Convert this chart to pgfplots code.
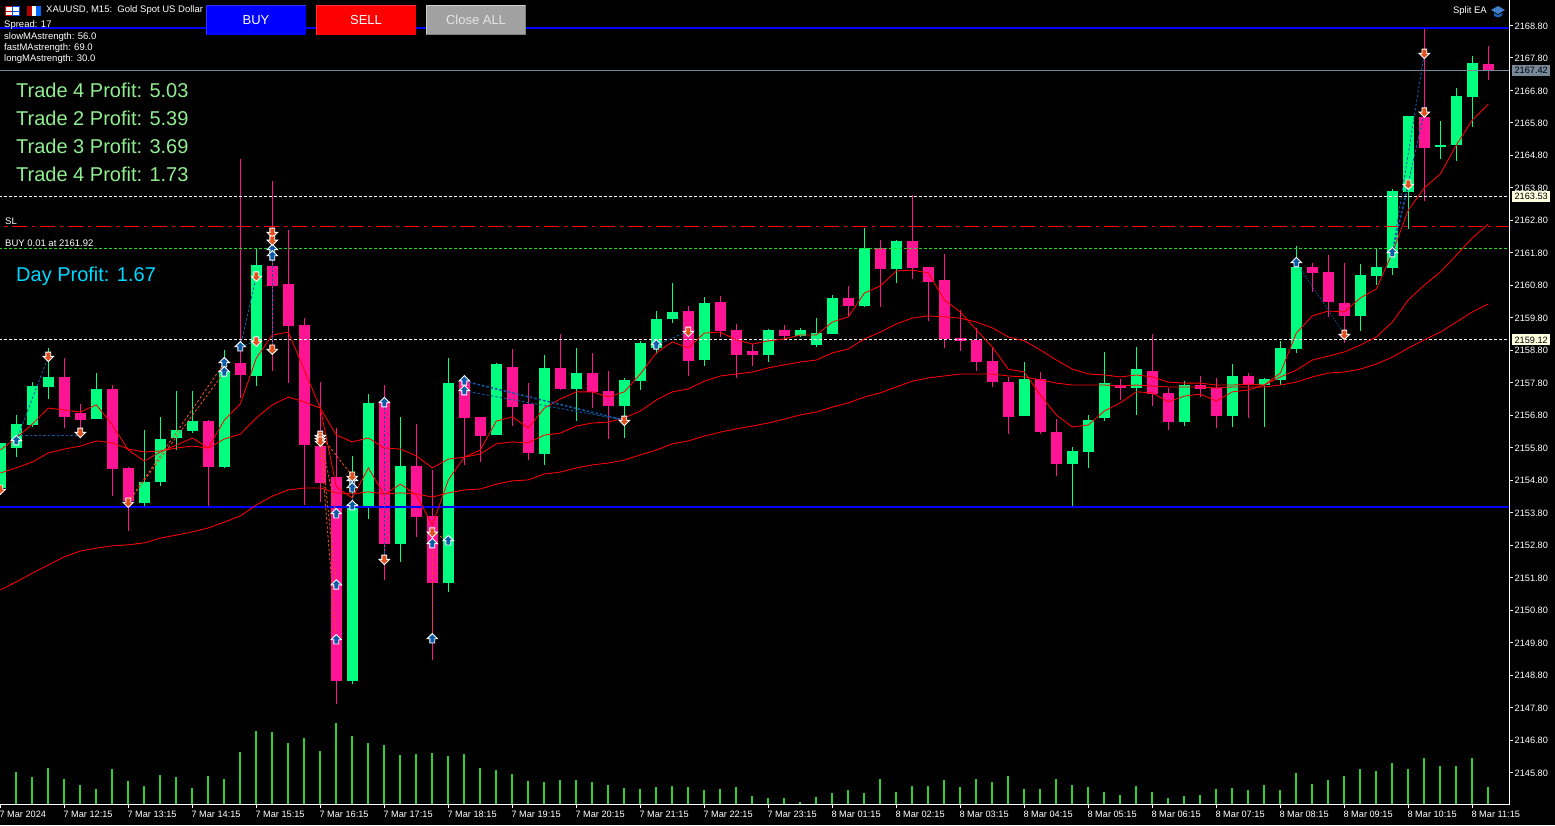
\documentclass[border=0pt]{standalone}
\usepackage{fontspec}
\setmainfont{Liberation Sans}
\usepackage{pgfplots}
\usepackage{pgfplotstable}
\pgfplotsset{compat=1.18}

\definecolor{bull}{HTML}{00FF7F}
\definecolor{bear}{HTML}{FF1493}
\definecolor{vol}{HTML}{32CD32}
\definecolor{tradeblue}{HTML}{0A5CA8}
\definecolor{tradeorange}{HTML}{E0501E}
\definecolor{slate}{HTML}{778899}
\definecolor{tag}{HTML}{FFFFE0}
\definecolor{profit}{HTML}{90EE90}
\definecolor{dayprofit}{HTML}{00D8FF}
\definecolor{entry}{HTML}{22DD22}

\newcommand{\tickfont}{\fontsize{9.2}{10}\selectfont}
\newcommand{\infofont}{\fontsize{9.5}{10}\selectfont}
\newcommand{\bigfont}{\fontsize{20}{22}\selectfont}
\newcommand{\btnfont}{\fontsize{13}{14}\selectfont}

\pgfdeclareplotmark{tup}{%
  \pgfpathmoveto{\pgfqpoint{0pt}{5.5pt}}%
  \pgfpathlineto{\pgfqpoint{5.2pt}{0.3pt}}%
  \pgfpathlineto{\pgfqpoint{2.4pt}{0.3pt}}%
  \pgfpathlineto{\pgfqpoint{2.4pt}{-4pt}}%
  \pgfpathlineto{\pgfqpoint{-2.4pt}{-4pt}}%
  \pgfpathlineto{\pgfqpoint{-2.4pt}{0.3pt}}%
  \pgfpathlineto{\pgfqpoint{-5.2pt}{0.3pt}}%
  \pgfpathclose\pgfusepathqfillstroke}
\pgfdeclareplotmark{tdown}{%
  \pgfpathmoveto{\pgfqpoint{0pt}{-5.5pt}}%
  \pgfpathlineto{\pgfqpoint{5.2pt}{-0.3pt}}%
  \pgfpathlineto{\pgfqpoint{2.4pt}{-0.3pt}}%
  \pgfpathlineto{\pgfqpoint{2.4pt}{4pt}}%
  \pgfpathlineto{\pgfqpoint{-2.4pt}{4pt}}%
  \pgfpathlineto{\pgfqpoint{-2.4pt}{-0.3pt}}%
  \pgfpathlineto{\pgfqpoint{-5.2pt}{-0.3pt}}%
  \pgfpathclose\pgfusepathqfillstroke}

\pgfplotstableread{
i hi top bot lo
0 2155.95 2155.95 2154.56 2154.50
1 2156.81 2156.53 2155.79 2155.51
2 2157.82 2157.70 2156.50 2156.44
3 2158.87 2157.98 2157.67 2157.30
6 2158.10 2157.61 2156.68 2156.68
9 2156.35 2154.74 2154.10 2154.01
10 2156.75 2156.07 2154.74 2154.62
11 2157.55 2156.35 2156.10 2155.73
12 2157.55 2156.62 2156.32 2156.25
14 2158.81 2158.13 2155.21 2155.18
16 2161.95 2161.43 2158.01 2157.70
22 2155.55 2154.07 2148.62 2148.53
23 2157.45 2157.18 2154.01 2153.61
25 2156.75 2155.24 2152.84 2152.28
28 2158.56 2157.79 2151.64 2151.36
31 2158.41 2158.38 2156.19 2156.19
34 2158.66 2158.26 2155.61 2155.27
36 2158.87 2158.10 2157.61 2156.62
39 2157.95 2157.89 2157.08 2156.10
40 2159.09 2159.03 2157.85 2157.58
41 2160.01 2159.76 2158.87 2158.69
42 2160.87 2159.98 2159.76 2159.64
44 2160.44 2160.26 2158.50 2158.32
48 2159.46 2159.43 2158.66 2158.44
50 2159.49 2159.43 2159.24 2159.21
51 2159.79 2159.33 2158.96 2158.90
52 2160.50 2160.41 2159.30 2159.30
54 2162.57 2161.95 2160.16 2160.13
56 2162.20 2162.17 2161.30 2160.87
64 2158.44 2157.92 2156.78 2156.78
67 2155.82 2155.70 2155.30 2153.94
68 2156.81 2156.65 2155.67 2155.18
69 2158.75 2157.79 2156.72 2156.62
71 2158.90 2158.22 2157.64 2156.81
74 2157.85 2157.73 2156.59 2156.47
77 2158.38 2158.01 2156.78 2156.44
79 2157.95 2157.92 2157.73 2156.44
80 2159.09 2158.87 2157.89 2157.73
81 2162.01 2161.36 2158.84 2158.72
85 2161.46 2161.12 2159.86 2159.39
86 2161.95 2161.36 2161.09 2160.81
87 2163.77 2163.70 2161.33 2161.12
88 2166.01 2166.01 2163.67 2162.53
90 2165.86 2165.12 2165.06 2164.69
91 2166.88 2166.63 2165.12 2164.63
92 2167.86 2167.65 2166.60 2165.67
}\bulls

\pgfplotstableread{
i hi top bot lo
4 2158.56 2157.98 2156.75 2156.41
5 2157.15 2156.87 2156.65 2156.19
7 2157.73 2157.61 2155.15 2154.31
8 2155.21 2155.18 2154.16 2153.24
13 2156.65 2156.62 2155.21 2153.98
15 2164.69 2158.41 2158.04 2157.33
17 2164.01 2161.40 2160.78 2158.16
18 2162.50 2160.84 2159.55 2157.79
19 2159.79 2159.58 2155.88 2154.04
20 2157.82 2155.85 2154.71 2154.13
21 2156.41 2154.90 2148.62 2147.91
24 2157.73 2157.24 2152.84 2151.73
26 2156.53 2155.24 2153.67 2153.05
27 2155.11 2153.70 2151.64 2149.27
29 2158.04 2157.89 2156.72 2155.27
30 2156.75 2156.75 2156.16 2155.36
32 2158.84 2158.29 2157.05 2156.47
33 2157.79 2157.15 2155.64 2155.42
35 2159.30 2158.26 2157.61 2157.58
37 2158.72 2158.10 2157.52 2157.02
38 2158.16 2157.55 2157.08 2156.07
43 2160.16 2160.01 2158.47 2158.01
45 2160.47 2160.29 2159.39 2159.21
46 2159.61 2159.43 2158.66 2157.95
47 2158.99 2158.78 2158.66 2158.32
49 2159.58 2159.43 2159.24 2159.15
53 2160.78 2160.41 2160.16 2159.83
55 2162.20 2161.95 2161.30 2160.13
57 2163.58 2162.17 2161.33 2161.00
58 2161.36 2161.36 2160.90 2159.70
59 2161.76 2160.96 2159.15 2158.87
60 2160.04 2159.18 2159.09 2158.78
61 2159.49 2159.12 2158.44 2158.16
62 2158.90 2158.47 2157.82 2157.67
63 2157.98 2157.82 2156.75 2156.22
65 2158.13 2157.92 2156.28 2156.22
66 2156.68 2156.28 2155.30 2154.93
70 2157.92 2157.73 2157.64 2157.27
72 2159.30 2158.16 2157.45 2157.08
73 2157.64 2157.49 2156.59 2156.35
75 2158.01 2157.73 2157.61 2157.36
76 2157.95 2157.64 2156.78 2156.41
78 2158.10 2158.01 2157.73 2156.72
82 2161.49 2161.36 2161.18 2160.60
83 2161.73 2161.21 2160.29 2159.83
84 2161.49 2160.26 2159.86 2159.03
89 2168.69 2165.98 2165.03 2163.40
93 2168.17 2167.61 2167.40 2167.12
}\bears

% moving averages: bar, fast, medium, slow
\pgfplotstableread{
i fast med slow
0 2155.73 2155.02 2151.42
1 2156.10 2155.18 2151.67
2 2156.53 2155.36 2151.94
3 2157.02 2155.64 2152.19
4 2156.96 2155.76 2152.44
5 2156.90 2155.85 2152.62
6 2157.12 2156.01 2152.71
7 2156.50 2155.95 2152.78
8 2155.73 2155.76 2152.81
9 2155.39 2155.67 2152.87
10 2155.67 2155.70 2153.02
11 2155.88 2155.79 2153.11
12 2156.10 2155.85 2153.21
13 2155.79 2155.79 2153.33
14 2156.65 2156.07 2153.51
15 2157.15 2156.22 2153.70
16 2158.56 2156.72 2154.04
17 2159.27 2157.12 2154.31
18 2159.36 2157.36 2154.50
19 2158.19 2157.21 2154.56
20 2157.02 2157.02 2154.56
21 2154.59 2156.19 2154.41
22 2154.25 2155.98 2154.38
23 2155.18 2156.10 2154.44
24 2154.35 2155.79 2154.38
25 2154.68 2155.76 2154.41
26 2154.35 2155.55 2154.38
27 2153.42 2155.18 2154.28
28 2154.81 2155.45 2154.41
29 2155.51 2155.51 2154.50
30 2155.73 2155.61 2154.53
31 2156.62 2155.92 2154.68
32 2156.75 2155.98 2154.78
33 2156.41 2155.95 2154.81
34 2157.02 2156.19 2154.99
35 2157.30 2156.25 2155.05
36 2157.52 2156.47 2155.18
37 2157.52 2156.56 2155.27
38 2157.36 2156.59 2155.33
39 2157.52 2156.72 2155.42
40 2158.07 2156.93 2155.58
41 2158.72 2157.27 2155.73
42 2159.06 2157.52 2155.92
43 2158.87 2157.61 2156.01
44 2159.33 2157.85 2156.16
45 2159.36 2158.01 2156.28
46 2159.12 2158.07 2156.38
47 2158.99 2158.13 2156.47
48 2159.09 2158.26 2156.56
49 2159.15 2158.35 2156.68
50 2159.27 2158.44 2156.81
51 2159.27 2158.50 2156.90
52 2159.67 2158.72 2157.05
53 2159.83 2158.84 2157.18
54 2160.56 2159.15 2157.36
55 2160.78 2159.36 2157.49
56 2161.24 2159.61 2157.67
57 2161.27 2159.79 2157.85
58 2161.18 2159.86 2157.95
59 2160.35 2159.83 2158.01
60 2159.98 2159.79 2158.07
61 2159.43 2159.67 2158.07
62 2158.90 2159.49 2158.07
63 2158.22 2159.21 2158.01
64 2158.13 2159.09 2157.98
65 2157.42 2158.81 2157.89
66 2156.81 2158.50 2157.79
67 2156.44 2158.22 2157.73
68 2156.50 2158.07 2157.73
69 2156.93 2158.04 2157.73
70 2157.18 2157.98 2157.70
71 2157.52 2158.04 2157.73
72 2157.49 2157.98 2157.70
73 2157.21 2157.82 2157.67
74 2157.39 2157.79 2157.67
75 2157.45 2157.79 2157.67
76 2157.24 2157.73 2157.64
77 2157.52 2157.73 2157.67
78 2157.58 2157.76 2157.67
79 2157.73 2157.73 2157.67
80 2158.10 2157.98 2157.73
81 2159.33 2158.19 2157.82
82 2159.86 2158.50 2157.98
83 2160.01 2158.62 2158.10
84 2159.98 2158.75 2158.13
85 2160.41 2158.96 2158.22
86 2160.69 2159.21 2158.38
87 2161.80 2159.67 2158.59
88 2163.12 2160.35 2158.87
89 2163.80 2160.81 2159.12
90 2164.23 2161.21 2159.36
91 2165.12 2161.73 2159.67
92 2165.89 2162.26 2159.98
93 2166.38 2162.69 2160.23
}\mas

\pgfplotsset{
  level/.style={no markers,forget plot},
  tradeline/.style={no markers,forget plot,line width=.9pt,dash pattern=on 2.5pt off 2pt},
}

\begin{document}
\begin{tikzpicture}[x=1pt,y=1pt]
\fill[black] (0pt,0pt) rectangle (1555pt,825pt);
\useasboundingbox (0pt,0pt) rectangle (1555pt,825pt);
\clip (0pt,0pt) rectangle (1555pt,825pt);

% tick volume, drawn first so the candles sit over it
\begin{axis}[at={(0pt,20.5pt)},anchor=south west,scale only axis,width=1509pt,height=804.5pt,
    xmin=-0.02,xmax=94.29,ymin=0,ymax=2413.5,axis lines=none]
\addplot[ycomb,draw=vol,line width=1.9pt,mark=none] coordinates {
(1,97)(2,82)(3,109)(4,76)(5,58)(6,46)(7,106)(8,70)(9,55)(10,88)(11,82)(12,49)(13,85)(14,76)
(15,157)(16,220)(17,217)(18,184)(19,199)(20,160)(21,244)(22,205)(23,184)(24,178)(25,148)
(26,151)(27,154)(28,145)(29,151)(30,109)(31,103)(32,91)(33,70)(34,67)(35,73)(36,73)(37,67)
(38,58)(39,49)(40,46)(41,52)(42,55)(43,52)(44,43)(45,46)(46,52)(47,25)(48,19)(49,19)(50,7)
(51,22)(52,34)(53,43)(54,34)(55,76)(56,37)(57,55)(58,55)(59,73)(60,52)(61,76)(62,67)(63,85)
(64,46)(65,46)(66,76)(67,58)(68,52)(69,37)(70,28)(71,55)(72,37)(73,19)(74,25)(75,28)(76,46)
(77,49)(78,43)(79,58)(80,43)(81,94)(82,61)(83,73)(84,85)(85,106)(86,100)(87,124)(88,106)
(89,139)(90,115)(91,115)(92,139)(93,52)};
\end{axis}

\begin{axis}[at={(0pt,20.5pt)},anchor=south west,scale only axis,width=1509pt,height=804.5pt,
    xmin=-0.02,xmax=94.29,ymin=2144.816,ymax=2169.585,
    clip mode=individual,
    axis x line=bottom,axis y line=right,
    axis line style={-,white,line width=1pt},
    tick style={white,line width=1pt},tick align=outside,major tick length=4pt,
    xtick={0,4,8,12,16,20,24,28,32,36,40,44,48,52,56,60,64,68,72,76,80,84,88,92},
    xticklabels={7 Mar 2024,7 Mar 12:15,7 Mar 13:15,7 Mar 14:15,7 Mar 15:15,7 Mar 16:15,7 Mar 17:15,7 Mar 18:15,7 Mar 19:15,7 Mar 20:15,7 Mar 21:15,7 Mar 22:15,7 Mar 23:15,8 Mar 01:15,8 Mar 02:15,8 Mar 03:15,8 Mar 04:15,8 Mar 05:15,8 Mar 06:15,8 Mar 07:15,8 Mar 08:15,8 Mar 09:15,8 Mar 10:15,8 Mar 11:15},
    ytick={2145.8,2146.8,2147.8,2148.8,2149.8,2150.8,2151.8,2152.8,2153.8,2154.8,2155.8,2156.8,2157.8,2158.8,2159.8,2160.8,2161.8,2162.8,2163.8,2164.8,2165.8,2166.8,2167.8,2168.8},
    xticklabel style={anchor=north west,inner sep=0pt,text=white,font=\tickfont,yshift=-2pt,xshift=-1pt},
    yticklabel style={anchor=west,inner sep=0pt,text=white,font=\tickfont,xshift=1.5pt,yshift=-.4pt,
      /pgf/number format/.cd,fixed,fixed zerofill,precision=2,1000 sep={},assume math mode=true},
    ]
% wicks
\addplot[draw=none,mark=none,forget plot,error bars/.cd,y dir=both,y explicit,error mark=none,
  error bar style={draw=bull,line width=1pt,solid}]
  table[x=i,y=top,y error plus expr=\thisrow{hi}-\thisrow{top},y error minus expr=\thisrow{top}-\thisrow{lo}]{\bulls};
\addplot[draw=none,mark=none,forget plot,error bars/.cd,y dir=both,y explicit,error mark=none,
  error bar style={draw=bear,line width=1pt,solid}]
  table[x=i,y=top,y error plus expr=\thisrow{hi}-\thisrow{top},y error minus expr=\thisrow{top}-\thisrow{lo}]{\bears};
% bodies
\addplot[draw=none,mark=none,forget plot,error bars/.cd,y dir=minus,y explicit,error mark=none,
  error bar style={draw=bull,line width=11pt,solid}]
  table[x=i,y=top,y error minus expr=\thisrow{top}-\thisrow{bot}]{\bulls};
\addplot[draw=none,mark=none,forget plot,error bars/.cd,y dir=minus,y explicit,error mark=none,
  error bar style={draw=bear,line width=11pt,solid}]
  table[x=i,y=top,y error minus expr=\thisrow{top}-\thisrow{bot}]{\bears};

% horizontal levels
\addplot[level,draw=blue,line width=2pt] coordinates {(-1,2168.71)(95,2168.71)};
\addplot[level,draw=blue,line width=2pt] coordinates {(-1,2153.98)(95,2153.98)};
\addplot[level,draw=slate,line width=1pt] coordinates {(-1,2167.42)(95,2167.42)};
\addplot[level,draw=white,line width=1pt,dash pattern=on 3pt off 2pt] coordinates {(-1,2163.53)(95,2163.53)};
\addplot[level,draw=white,line width=1pt,dash pattern=on 3pt off 2pt] coordinates {(-1,2159.12)(95,2159.12)};
\addplot[level,draw=red,line width=1pt,dash pattern=on 15pt off 5pt on 3pt off 5pt] coordinates {(-1,2162.61)(95,2162.61)};
\addplot[level,draw=entry,line width=1pt,dash pattern=on 3pt off 2pt] coordinates {(-1,2161.92)(95,2161.92)};

% moving averages
\addplot[no markers,forget plot,draw=red,line width=.85pt] table[x=i,y=fast]{\mas};
\addplot[no markers,forget plot,draw=red,line width=.85pt] table[x=i,y=med]{\mas};
\addplot[no markers,forget plot,draw=red,line width=.85pt] table[x=i,y=slow]{\mas};

% trade connectors
\addplot[tradeline,draw=tradeblue] coordinates {(1,2156.01)(3,2158.62)};
\addplot[tradeline,draw=tradeblue] coordinates {(1,2156.19)(5,2156.19)};
\addplot[tradeline,draw=tradeorange] coordinates {(8,2154.13)(14,2158.41)};
\addplot[tradeline,draw=tradeorange] coordinates {(8,2154.13)(14,2158.13)};
\addplot[tradeline,draw=tradeblue] coordinates {(15,2158.90)(16,2159.09)};
\addplot[tradeline,draw=tradeblue] coordinates {(15,2158.90)(16,2161.09)};
\addplot[tradeline,draw=tradeblue] coordinates {(17,2161.70)(17,2158.84)};
\addplot[tradeline,draw=tradeorange] coordinates {(20,2156.19)(21,2153.76)};
\addplot[tradeline,draw=tradeorange] coordinates {(20,2156.10)(21,2151.57)};
\addplot[tradeline,draw=tradeorange] coordinates {(20,2156.01)(21,2149.88)};
\addplot[tradeline,draw=tradeorange] coordinates {(20,2156.19)(22,2154.93)};
\addplot[tradeline,draw=tradeblue] coordinates {(22,2154.93)(22,2154.01)};
\addplot[tradeline,draw=tradeblue] coordinates {(24,2157.18)(24,2152.37)};
\addplot[tradeline,draw=tradeorange] coordinates {(27,2153.21)(27,2149.91)};
\addplot[tradeline,draw=tradeorange] coordinates {(27,2153.21)(28,2152.93)};
\addplot[tradeline,draw=tradeblue,line width=1.6pt] coordinates {(29,2157.85)(39,2156.65)};
\addplot[tradeline,draw=tradeblue] coordinates {(29,2157.55)(39,2156.65)};
\addplot[tradeline,draw=tradeblue] coordinates {(41,2158.96)(43,2159.39)};
\addplot[tradeline,draw=tradeblue,line width=.7pt,dash pattern=on 1.5pt off 1.5pt] coordinates {(81,2161.49)(84,2159.30)};
\addplot[tradeline,draw=tradeblue,line width=1.4pt] coordinates {(87,2161.80)(88,2163.92)};
\addplot[tradeline,draw=tradeblue] coordinates {(87,2161.80)(89,2166.14)};
\addplot[tradeline,draw=tradeblue] coordinates {(87,2161.80)(89,2167.95)};

% trade arrows
\addplot[only marks,forget plot,mark=tup,mark options={draw=white,fill=tradeblue,line width=.9pt,solid}] coordinates {
(1,2156.01)(14,2158.41)(14,2158.13)(15,2158.90)(17,2161.89)(17,2161.70)
(21,2153.76)(21,2151.57)(21,2149.88)(22,2154.78)(22,2154.56)(22,2154.01)
(24,2157.18)(27,2152.84)(27,2149.91)(28,2152.93)(29,2157.85)(29,2157.55)
(41,2158.96)(81,2161.49)(87,2161.80)};
\addplot[only marks,forget plot,mark=tdown,mark options={draw=white,fill=tradeorange,line width=.9pt,solid}] coordinates {
(0,2154.53)(3,2158.62)(5,2156.28)(8,2154.13)(16,2161.09)(16,2159.09)
(17,2162.44)(17,2162.20)(17,2158.84)(20,2156.19)(20,2156.10)(20,2156.01)
(22,2154.93)(24,2152.37)(27,2153.21)(39,2156.65)(43,2159.39)(84,2159.30)
(88,2163.92)(89,2167.95)(89,2166.14)};

\coordinate (tagA) at (axis cs:94.29,2167.42);
\coordinate (tagB) at (axis cs:94.29,2163.53);
\coordinate (tagC) at (axis cs:94.29,2159.12);
\end{axis}

% price tags on the scale
\node[anchor=west,xshift=3pt,fill=slate,text=black,inner sep=0pt,minimum width=38pt,minimum height=11pt,font=\tickfont] at (tagA) {2167.42};
\node[anchor=west,xshift=3pt,fill=tag,text=black,inner sep=0pt,minimum width=38pt,minimum height=11pt,font=\tickfont] at (tagB) {2163.53};
\node[anchor=west,xshift=3pt,fill=tag,text=black,inner sep=0pt,minimum width=38pt,minimum height=11pt,font=\tickfont] at (tagC) {2159.12};

% header
\fill[white] (5pt,809pt) rectangle (19.5pt,819pt);
\draw[red!80!black,line width=1pt] (5.5pt,809.5pt) rectangle (12pt,818.5pt);
\draw[blue!70!cyan,line width=1pt] (12.5pt,809.5pt) rectangle (19pt,818.5pt);
\fill[red!80!black] (5pt,812.5pt) rectangle (12pt,813.5pt);
\fill[blue!70!cyan] (12.5pt,812.5pt) rectangle (19.5pt,813.5pt);
\fill[red!70!black] (27pt,809pt) rectangle (32pt,819pt);
\fill[white] (32pt,809pt) rectangle (36pt,819pt);
\fill[blue!60!cyan] (36pt,809pt) rectangle (40.5pt,819pt);
\node[anchor=west,inner sep=0pt,text=white,font=\infofont] at (46pt,815pt) {XAUUSD, M15:\ \ Gold Spot US Dollar};
\node[anchor=west,inner sep=0pt,text=white,font=\infofont] at (4pt,799.5pt) {Spread: 17};
\node[anchor=west,inner sep=0pt,text=white,font=\infofont] at (4pt,788pt) {slowMAstrength: 56.0};
\node[anchor=west,inner sep=0pt,text=white,font=\infofont] at (4pt,777pt) {fastMAstrength: 69.0};
\node[anchor=west,inner sep=0pt,text=white,font=\infofont] at (4pt,766pt) {longMAstrength: 30.0};

% buttons
\fill[blue] (206pt,790pt) rectangle (306pt,820pt);
\draw[blue!80!white,line width=1pt] (206.5pt,790pt) -- (206.5pt,819.5pt) -- (306pt,819.5pt);
\node[text=white,font=\btnfont,inner sep=0pt] at (256pt,805pt) {BUY};
\fill[red] (316pt,790pt) rectangle (416pt,820pt);
\draw[red!80!white,line width=1pt] (316.5pt,790pt) -- (316.5pt,819.5pt) -- (416pt,819.5pt);
\node[text=white,font=\btnfont,inner sep=0pt] at (366pt,805pt) {SELL};
\fill[black!37] (426pt,790pt) rectangle (526pt,820pt);
\draw[black!20,line width=1.5pt] (426.7pt,790pt) -- (426.7pt,819.3pt) -- (526pt,819.3pt);
\draw[black!50,line width=1pt] (426pt,790.5pt) -- (525.5pt,790.5pt) -- (525.5pt,820pt);
\node[text=black!10,font=\btnfont,inner sep=0pt] at (476pt,805pt) {Close ALL};

% trade labels
\node[anchor=west,inner sep=0pt,text=profit,font=\bigfont] at (16pt,735pt) {Trade 4 Profit: 5.03};
\node[anchor=west,inner sep=0pt,text=profit,font=\bigfont] at (16pt,707pt) {Trade 2 Profit: 5.39};
\node[anchor=west,inner sep=0pt,text=profit,font=\bigfont] at (16pt,679pt) {Trade 3 Profit: 3.69};
\node[anchor=west,inner sep=0pt,text=profit,font=\bigfont] at (16pt,651pt) {Trade 4 Profit: 1.73};
\node[anchor=west,inner sep=0pt,text=dayprofit,font=\bigfont] at (16pt,549pt) {Day Profit: 1.67};
\node[anchor=west,inner sep=0pt,text=white,font=\infofont] at (5pt,604pt) {SL};
\node[anchor=west,inner sep=0pt,text=white,font=\infofont] at (5pt,582pt) {BUY 0.01 at 2161.92};

% top-right label with its cap
\node[anchor=east,inner sep=0pt,text=white,font=\infofont] at (1487pt,814pt) {Split EA};
\fill[cyan!50!blue!80!white] (1491pt,815pt) -- (1498pt,819pt) -- (1505pt,815pt) -- (1498pt,811pt) -- cycle;
\fill[cyan!40!blue] (1494pt,812pt) -- (1498pt,810pt) -- (1502pt,812pt) -- (1502pt,809pt) -- (1498pt,807.5pt) -- (1494pt,809pt) -- cycle;
\end{tikzpicture}
\end{document}
